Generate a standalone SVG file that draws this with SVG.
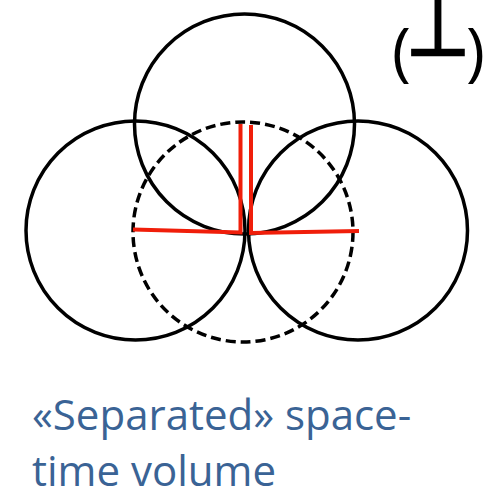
<svg xmlns="http://www.w3.org/2000/svg" width="486" height="493" viewBox="0 0 486 493">
<style>
.c{fill:none;stroke:#000;stroke-width:3.5}
.d{fill:none;stroke:#000;stroke-width:3.5;stroke-dasharray:10 5}
.r{fill:none;stroke:#f01e0a;stroke-width:4;stroke-linecap:butt}
.t{font-family:"Open Sans","Liberation Sans",sans-serif;fill:#3a6395}
.s{font-family:"Open Sans","Liberation Sans",sans-serif;fill:#000}
</style>
<rect width="486" height="493" fill="#fff"/>
<g id="circle-left"><circle class="c" cx="135.5" cy="230.5" r="109.5"/></g>
<g id="circle-right"><circle class="c" cx="358" cy="230.5" r="109.5"/></g>
<g id="circle-top"><circle class="c" cx="244.5" cy="124" r="110"/></g>
<g id="circle-dashed"><circle class="d" cx="243" cy="232" r="110"/></g>
<g id="connectors">
<polyline class="r" points="240.5,124 240.5,232.5 133,229.5"/>
<polyline class="r" points="251,125 251,233 359,231"/>
</g>
<g id="symbol">
<text class="s" font-size="64" x="392" y="74">(</text>
<text class="s" font-family="DejaVu Sans" font-weight="bold" font-size="64" transform="translate(406,55) scale(1.15,1.27)" x="0" y="0">⊥</text>
<text class="s" font-size="64" x="466" y="74">)</text>
</g>
<g id="caption">
<text class="t" font-size="42" x="32" y="430">«Separated» space-</text>
<text class="t" font-size="42" x="32" y="486">time volume</text>
</g>
</svg>
